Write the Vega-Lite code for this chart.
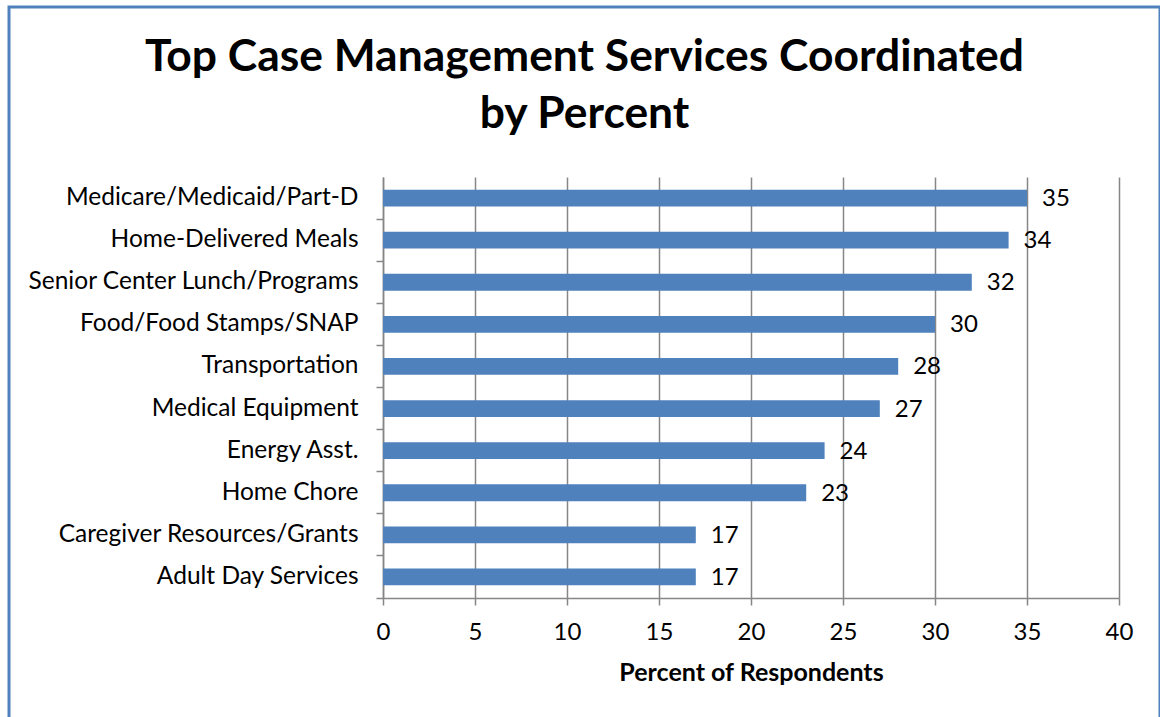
{
  "$schema": "https://vega.github.io/schema/vega-lite/v6.json",
  "autosize": "none",
  "padding": {"left": 9, "top": 7, "right": 0, "bottom": 0},
  "width": 1151,
  "height": 761,
  "background": "white",
  "title": {
    "text": ["Top Case Management Services Coordinated", "by Percent"],
    "anchor": "middle",
    "frame": "group",
    "font": "Lato",
    "fontSize": 44.4,
    "fontWeight": "bold",
    "color": "black",
    "lineHeight": 57,
    "baseline": "alphabetic",
    "offset": -165
  },
  "data": {
    "values": [
      {"service": "Medicare/Medicaid/Part-D", "pct": 35},
      {"service": "Home-Delivered Meals", "pct": 34},
      {"service": "Senior Center Lunch/Programs", "pct": 32},
      {"service": "Food/Food Stamps/SNAP", "pct": 30},
      {"service": "Transportation", "pct": 28},
      {"service": "Medical Equipment", "pct": 27},
      {"service": "Energy Asst.", "pct": 24},
      {"service": "Home Chore", "pct": 23},
      {"service": "Caregiver Resources/Grants", "pct": 17},
      {"service": "Adult Day Services", "pct": 17}
    ]
  },
  "encoding": {
    "y": {
      "field": "service",
      "type": "nominal",
      "sort": null,
      "scale": {"range": [170, 591], "paddingInner": 0.6, "paddingOuter": 0.3},
      "axis": {
        "title": null,
        "grid": false,
        "offset": -374,
        "domainColor": "#868686",
        "domainWidth": 1.5,
        "tickColor": "#868686",
        "tickWidth": 1.5,
        "tickSize": 7,
        "bandPosition": 1.75,
        "labelFont": "Lato",
        "labelFontSize": 24.5,
        "labelColor": "black",
        "labelPadding": 18,
        "labelLimit": 400
      }
    },
    "x": {
      "field": "pct",
      "type": "quantitative",
      "scale": {"domain": [0, 40], "range": [374, 1110], "nice": false},
      "axis": {
        "title": "Percent of Respondents",
        "titleFont": "Lato",
        "titleFontSize": 25,
        "titleFontWeight": "bold",
        "titleColor": "black",
        "titlePadding": 16,
        "values": [0, 5, 10, 15, 20, 25, 30, 35, 40],
        "grid": true,
        "gridColor": "#868686",
        "gridWidth": 1.5,
        "domainColor": "#868686",
        "domainWidth": 1.5,
        "tickColor": "#868686",
        "tickWidth": 1.5,
        "tickSize": 7,
        "offset": -170,
        "labelFont": "Lato",
        "labelFontSize": 24,
        "labelColor": "black",
        "labelPadding": 15,
        "labelFlush": false
      }
    }
  },
  "layer": [
    {"mark": {"type": "bar", "color": "#4F81BD"}},
    {
      "mark": {"type": "text", "align": "left", "baseline": "middle", "dx": 15, "dy": 1, "font": "Lato", "fontSize": 24, "color": "black"},
      "encoding": {"text": {"field": "pct", "type": "quantitative"}}
    }
  ],
  "config": {
    "view": {"stroke": "#4F81BD", "strokeWidth": 3, "fill": "white"}
  }
}
